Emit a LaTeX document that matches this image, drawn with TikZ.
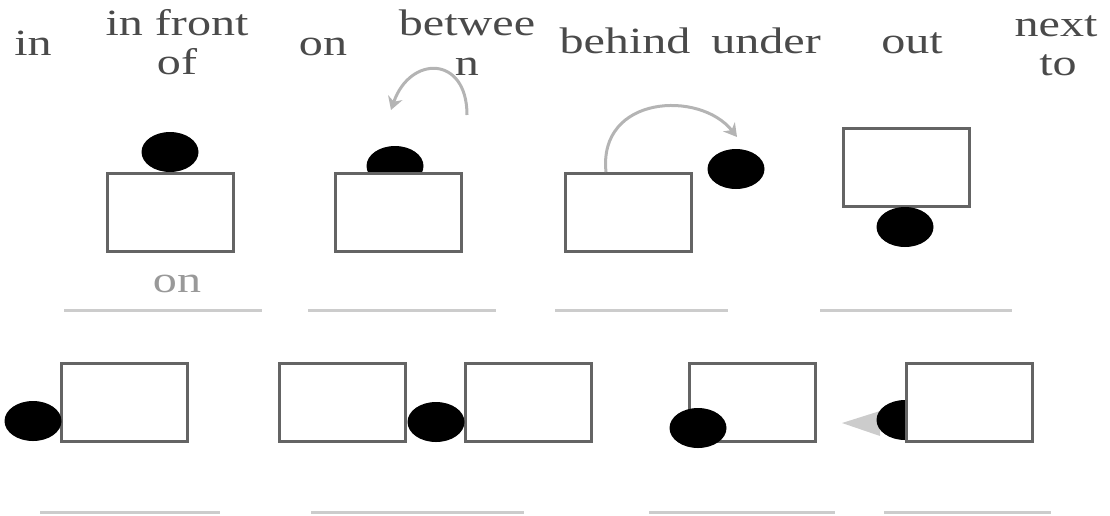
\documentclass[tikz,border=0pt]{standalone}
\usepackage{fontspec}
\setmainfont{Liberation Serif}
\usetikzlibrary{shapes.geometric,arrows.meta}
\definecolor{txt}{HTML}{4A4A4A}
\definecolor{edgec}{HTML}{646464}
\definecolor{lite}{HTML}{CCCCCC}
\definecolor{arcc}{HTML}{B4B4B4}
\newcommand{\widetext}[1]{\scalebox{1.3}[1]{#1}}
\begin{document}
\begin{tikzpicture}[x=1pt,y=-1pt,
 word/.style={anchor=base,inner sep=0pt,text=txt,font=\fontsize{37}{38}\selectfont},
 faint/.style={word,text=black!40},
 box/.style={draw=edgec,line width=2.5pt,fill=white,minimum width=126pt,minimum height=78pt,inner sep=0pt,anchor=north west},
 ball/.style={ellipse,fill=black,minimum width=57pt,minimum height=40pt,inner sep=0pt},
 rulestyle/.style={draw=lite,line width=3pt},
 curvearrow/.style={draw=arcc,line width=3pt,-{Stealth[length=13pt,width=15pt]}}]
\useasboundingbox (0,0) rectangle (1110,515);

% header words
\node[word] (w1) at (33,55) {\widetext{in}};
\node[word] (w2a) at (177,35) {\widetext{in front}};
\node[word] (w2b) at (177,74) {\widetext{of}};
\node[word] (w3) at (323,55) {\widetext{on}};
\node[word] (w4a) at (467,35) {\widetext{betwee}};
\node[word] (w4b) at (467,75) {\widetext{n}};
\node[word] (w5) at (625,53) {\widetext{behind}};
\node[word] (w6) at (766,53) {\widetext{under}};
\node[word] (w7) at (912,53) {\widetext{out}};
\node[word] (w8a) at (1056,36) {\widetext{next}};
\node[word] (w8b) at (1058,75) {\widetext{to}};

% row 1
\node[ball] (c1) at (170,152) {};
\node[box] (b1) at (106,172) {};
\node[faint] (t1) at (177,292) {\widetext{on}};

\node[ball] (c2) at (395,166) {};
\node[box] (b2) at (334,172) {};
\coordinate (a2s) at (467,115);
\coordinate (a2e) at (391,110);
\draw[curvearrow] (a2s) .. controls (467,55) and (410,55) .. (a2e);

\node[box] (b3) at (564,172) {};
\node[ball] (c3) at (736,169) {};
\coordinate (a3s) at (606,172);
\coordinate (a3e) at (737,137);
\draw[curvearrow] (a3s) .. controls (598,95) and (700,90) .. (a3e);

\node[box] (b4) at (842,127) {};
\node[ball] (c4) at (905,227) {};

\draw[rulestyle] (64,310) -- (262,310);
\draw[rulestyle] (308,310) -- (496,310);
\draw[rulestyle] (555,310) -- (728,310);
\draw[rulestyle] (820,310) -- (1012,310);

% row 2
\node[box] (b5) at (60,362) {};
\node[ball] (c5) at (33,421) {};

\node[box] (b6) at (278,362) {};
\node[box] (b7) at (464,362) {};
\node[ball] (c6) at (436,422) {};

\node[box] (b8) at (688,362) {};
\node[ball] (c8) at (698,428) {};

\fill[lite] (842,423) -- (880,411) -- (880,436) -- cycle;
\node[ball] (c9) at (905,420) {};
\node[box] (b9) at (905,362) {};

\draw[rulestyle] (40,512) -- (220,512);
\draw[rulestyle] (311,512) -- (524,512);
\draw[rulestyle] (649,512) -- (835,512);
\draw[rulestyle] (884,512) -- (1051,512);
\end{tikzpicture}
\end{document}
